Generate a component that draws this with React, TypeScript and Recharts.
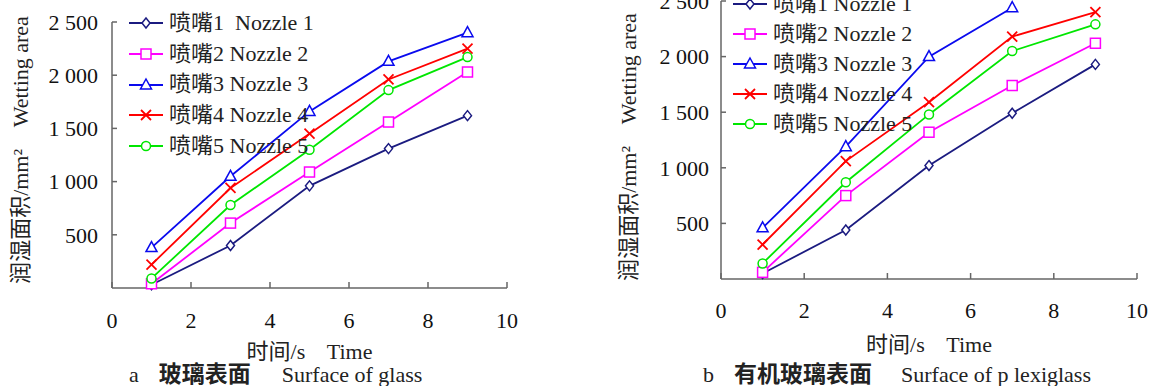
import { LineChart, Line, XAxis, YAxis, Legend, Label } from 'recharts';

// time points (s) and axis ticks
const times = [1, 3, 5, 7, 9];
const xTicks = [0, 2, 4, 6, 8, 10];
const yTicks = [500, 1000, 1500, 2000, 2500];

// a  glass surface, wetting area (mm²)
const glassNozzle1 = [30, 400, 960, 1310, 1620];
const glassNozzle2 = [40, 610, 1090, 1560, 2030];
const glassNozzle3 = [380, 1050, 1660, 2130, 2400];
const glassNozzle4 = [220, 940, 1450, 1960, 2250];
const glassNozzle5 = [90, 780, 1300, 1860, 2170];

// b  plexiglass surface, wetting area (mm²)
const plexNozzle1 = [50, 440, 1020, 1490, 1930];
const plexNozzle2 = [60, 750, 1320, 1740, 2120];
const plexNozzle3 = [460, 1190, 2000, 2440, null];
const plexNozzle4 = [310, 1060, 1590, 2180, 2400];
const plexNozzle5 = [140, 870, 1480, 2050, 2290];

const glassNames = ['喷嘴1  Nozzle 1', '喷嘴2 Nozzle 2', '喷嘴3 Nozzle 3', '喷嘴4 Nozzle 4', '喷嘴5 Nozzle 5'];
const plexNames = ['喷嘴1 Nozzle 1', '喷嘴2 Nozzle 2', '喷嘴3 Nozzle 3', '喷嘴4 Nozzle 4', '喷嘴5 Nozzle 5'];
const nozzleColors = ['#1b1b80', '#ff00ff', '#0a0aee', '#ff0000', '#00e600'];
const nozzleMarkers = ['diamond', 'square', 'triangle', 'cross', 'circle'];

const FONT = "'Liberation Serif', 'Times New Roman', 'Noto Sans CJK SC', serif";
const AXIS = '#666';

const toRows = (series: (number | null)[][]) =>
  times.map((t, i) => {
    const row: any = { t };
    series.forEach((s, k) => {
      row['n' + (k + 1)] = s[i];
    });
    return row;
  });

const glassRows = toRows([glassNozzle1, glassNozzle2, glassNozzle3, glassNozzle4, glassNozzle5]);
const plexRows = toRows([plexNozzle1, plexNozzle2, plexNozzle3, plexNozzle4, plexNozzle5]);

const formatArea = (v: number) =>
  v >= 1000 ? `${Math.floor(v / 1000)} ${String(v % 1000).padStart(3, '0')}` : String(v);

const Marker = ({ shape, color, x, y }: { shape: string; color: string; x: number; y: number }) => {
  const sw = 1.5;
  if (shape === 'diamond')
    return <polygon points={`${x},${y - 5} ${x + 4},${y} ${x},${y + 5} ${x - 4},${y}`} fill="#fff" stroke={color} strokeWidth={sw} />;
  if (shape === 'square')
    return <rect x={x - 5} y={y - 5} width={10} height={10} fill="#fff" stroke={color} strokeWidth={sw} />;
  if (shape === 'triangle')
    return <polygon points={`${x},${y - 6} ${x + 5.5},${y + 4} ${x - 5.5},${y + 4}`} fill="#fff" stroke={color} strokeWidth={sw} />;
  if (shape === 'cross')
    return (
      <g stroke={color} strokeWidth={1.8}>
        <line x1={x - 5} y1={y - 5} x2={x + 5} y2={y + 5} />
        <line x1={x - 5} y1={y + 5} x2={x + 5} y2={y - 5} />
      </g>
    );
  return <circle cx={x} cy={y} r={4.5} fill="#fff" stroke={color} strokeWidth={sw} />;
};

const renderDot = (shape: string, color: string) => (props: any) => {
  const { cx, cy, index, value } = props;
  const key = `${shape}-${index}`;
  if (cx == null || cy == null || value == null) return <g key={key} />;
  return (
    <g key={key}>
      <Marker shape={shape} color={color} x={cx} y={cy} />
    </g>
  );
};

const NozzleLegend = ({ names, rowHeight }: { names: string[]; rowHeight: number }) => (
  <div>
    {names.map((name, i) => (
      <div key={name} style={{ display: 'flex', alignItems: 'center', height: rowHeight }}>
        <svg width={34} height={16}>
          <line x1={0} y1={8} x2={34} y2={8} stroke={nozzleColors[i]} strokeWidth={1.8} />
          <Marker shape={nozzleMarkers[i]} color={nozzleColors[i]} x={17} y={8} />
        </svg>
        <span style={{ marginLeft: 6, fontSize: 22, fontFamily: FONT, color: '#222', whiteSpace: 'pre', lineHeight: `${rowHeight}px` }}>
          {name}
        </span>
      </div>
    ))}
  </div>
);

interface PanelProps {
  rows: any[];
  names: string[];
  width: number;
  marginTop: number;
  marginRight: number;
  yAxisWidth: number;
  xAxisHeight: number;
  yTickMargin: number;
  xTickMargin: number;
  yLabelX: number;
  yLabelShift: number;
  xLabelDy: number;
  legendLeft: number;
  legendTop: number;
  legendRow: number;
}

const Panel = (p: PanelProps) => (
  <LineChart
    width={p.width}
    height={386}
    data={p.rows}
    margin={{ top: p.marginTop, right: p.marginRight, bottom: 0, left: 0 }}
  >
    <XAxis
      type="number"
      dataKey="t"
      domain={[0, 10]}
      ticks={xTicks}
      interval={0}
      height={p.xAxisHeight}
      stroke={AXIS}
      strokeWidth={1.5}
      tickSize={-6}
      tickMargin={p.xTickMargin}
      tick={{ fill: '#111', fontSize: 22, fontFamily: FONT }}
    >
      <Label
        content={(props: any) => {
          const vb = props.viewBox;
          return (
            <text
              x={vb.x + vb.width / 2}
              y={vb.y + p.xLabelDy}
              textAnchor="middle"
              fontSize={22}
              fontFamily={FONT}
              fill="#222"
              style={{ whiteSpace: 'pre' }}
            >
              时间/s    Time
            </text>
          );
        }}
      />
    </XAxis>
    <YAxis
      type="number"
      domain={[0, 2500]}
      ticks={yTicks}
      interval={0}
      width={p.yAxisWidth}
      stroke={AXIS}
      strokeWidth={1.5}
      tickSize={-5}
      tickMargin={p.yTickMargin}
      tickFormatter={formatArea}
      tick={{ fill: '#111', fontSize: 22, fontFamily: FONT }}
    >
      <Label
        content={(props: any) => {
          const vb = props.viewBox;
          const cx = vb.x + p.yLabelX;
          const cy = vb.y + vb.height / 2 + p.yLabelShift;
          return (
            <text
              x={cx}
              y={cy}
              transform={`rotate(-90 ${cx} ${cy})`}
              textAnchor="middle"
              dominantBaseline="central"
              fontSize={22}
              fontFamily={FONT}
              fill="#222"
              style={{ whiteSpace: 'pre' }}
            >
              润湿面积/mm²    Wetting area
            </text>
          );
        }}
      />
    </YAxis>
    <Legend
      layout="horizontal"
      verticalAlign="middle"
      align="center"
      wrapperStyle={{ left: p.legendLeft, top: p.legendTop, width: 'auto', height: 'auto' }}
      content={() => <NozzleLegend names={p.names} rowHeight={p.legendRow} />}
    />
    {p.names.map((name, i) => (
      <Line
        key={name}
        type="linear"
        dataKey={'n' + (i + 1)}
        stroke={nozzleColors[i]}
        strokeWidth={1.8}
        dot={renderDot(nozzleMarkers[i], nozzleColors[i])}
        activeDot={false}
        isAnimationActive={false}
        legendType="none"
      />
    ))}
  </LineChart>
);

const captionStyle: any = {
  position: 'absolute',
  top: 361,
  fontSize: 22,
  lineHeight: '22px',
  fontFamily: FONT,
  color: '#222',
  whiteSpace: 'pre',
};
const boldCn: any = { fontFamily: "'Noto Sans CJK SC', sans-serif", fontWeight: 700, fontSize: 23 };

export default function App() {
  return (
    <div style={{ position: 'absolute', left: 0, top: 0, width: 1151, height: 386, background: '#fff', overflow: 'hidden' }}>
      <div style={{ position: 'absolute', left: 0, top: 0 }}>
        <Panel
          rows={glassRows}
          names={glassNames}
          width={520}
          marginTop={22}
          marginRight={13}
          yAxisWidth={112}
          xAxisHeight={98}
          yTickMargin={19}
          xTickMargin={30}
          yLabelX={20}
          yLabelShift={-5}
          xLabelDy={71}
          legendLeft={129}
          legendTop={8}
          legendRow={30.7}
        />
      </div>
      <div style={{ position: 'absolute', left: 600, top: 0 }}>
        <Panel
          rows={plexRows}
          names={plexNames}
          width={551}
          marginTop={1}
          marginRight={14}
          yAxisWidth={121}
          xAxisHeight={107}
          yTickMargin={17}
          xTickMargin={29}
          yLabelX={28}
          yLabelShift={7}
          xLabelDy={73}
          legendLeft={133}
          legendTop={-11}
          legendRow={30}
        />
      </div>
      <div style={{ ...captionStyle, left: 129 }}>
        <span>a</span>
        <span style={{ ...boldCn, marginLeft: 20 }}>玻璃表面</span>
        <span style={{ marginLeft: 31 }}>Surface of glass</span>
      </div>
      <div style={{ ...captionStyle, left: 703 }}>
        <span>b</span>
        <span style={{ ...boldCn, marginLeft: 20 }}>有机玻璃表面</span>
        <span style={{ marginLeft: 29 }}>Surface of p lexiglass</span>
      </div>
    </div>
  );
}
